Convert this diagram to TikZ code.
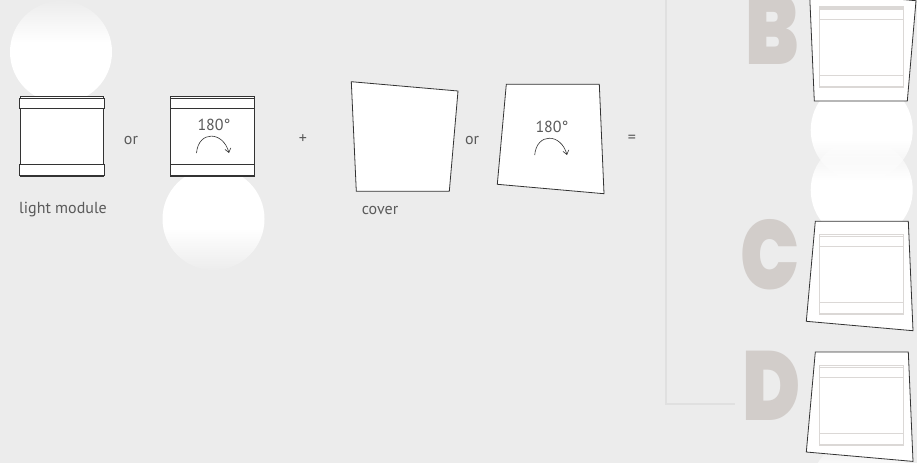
\documentclass[tikz,border=0pt]{standalone}
\usepackage{fontspec}
\setmainfont{PT Sans}
\newfontfamily\letterfont[FakeStretch=0.8]{Poppins Black}
\definecolor{panel}{HTML}{ECECEC}
\definecolor{ink}{HTML}{333333}
\definecolor{label}{HTML}{5A5A5A}
\definecolor{ghost}{HTML}{DBD8D6}
\definecolor{letter}{HTML}{D2CDCA}
\definecolor{rail}{HTML}{E0E0E0}
\usetikzlibrary{calc, positioning, arrows.meta, fadings}
\pgfdeclareverticalshading{glowupshade}{100bp}{color(0bp)=(white); color(55bp)=(white); color(75bp)=(black!95); color(100bp)=(black!95)}
\pgfdeclareverticalshading{glowdownshade}{100bp}{color(0bp)=(black!95); color(25bp)=(black!95); color(45bp)=(white); color(100bp)=(white)}
\pgfdeclarefading{glowup}{\pgfuseshading{glowupshade}}
\pgfdeclarefading{glowdown}{\pgfuseshading{glowdownshade}}

\begin{document}
\begin{tikzpicture}[x=1pt, y=-1pt,
  glow/.style={circle, fill=white, minimum size=102pt, inner sep=0pt},
  frame/.style={draw=ink, line width=0.6pt, fill=white, minimum width=83.5pt,
                minimum height=80.5pt, inner sep=0pt, outer sep=0pt},
  strip/.style={draw=ink, line width=0.6pt, fill=white, minimum width=84.5pt,
                inner sep=0pt, outer sep=0pt},
  ghostframe/.style={frame, draw=ghost, line width=1.1pt},
  ghoststrip/.style={strip, draw=ghost, line width=1.1pt},
  cover/.style={draw=ink, line width=0.8pt, fill=white, line join=miter},
  caption/.style={font=\fontsize{16}{18}\selectfont, text=label, inner sep=0pt},
  bigletter/.style={font=\letterfont\fontsize{98}{98}\selectfont, text=letter, inner sep=0pt},
  turn/.style={draw=ink, line width=0.6pt, -{Straight Barb[length=4pt,width=6pt]}},
]
\path[use as bounding box, clip] (0,0) rectangle (917,463);
\fill[panel] (0,0) rectangle (917,463);

% glows
\node[glow, path fading=glowup] (g1) at (61,52) {};
\node[glow, path fading=glowdown] (g2) at (213.5,219) {};
\node[glow, path fading=glowdown] (g3) at (861.7,130) {};
\node[glow, path fading=glowup] (g4) at (861.7,190) {};
\node[glow, path fading=glowup] (g5) at (861.7,489) {};

% light modules
\node[frame] (m1) at (61.7,136.5) {};
\node[strip, minimum height=10.4pt, below=2pt of m1.north] (m1t) {};
\node[strip, minimum height=11.4pt, above=1pt of m1.south] (m1b) {};
\node[frame] (m2) at (212.3,136.5) {};
\node[strip, minimum height=10.4pt, below=2pt of m2.north] (m2t) {};
\node[strip, minimum height=11.4pt, above=1pt of m2.south] (m2b) {};

\node[caption] (or1) at (131,140) {or};
\node[caption] (t1) at (214,125) {180°};
\coordinate (t1a) at (196.5,153);
\coordinate (t1b) at (229,153);
\draw[turn] (t1a) to[out=85, in=105, looseness=1.8] (t1b);
\node[caption] (lm) at (63,209.5) {light module};
\node[caption] (plus) at (303,139) {+};

% covers
\draw[cover] (351.3,81.7) -- (458,91) -- (449.3,191.3) -- (356.3,191.3) -- cycle;
\draw[cover] (506.3,84.3) -- (599.3,84.3) -- (604,193.7) -- (497.3,184.3) -- cycle;
\node[caption] (or2) at (472,140) {or};
\node[caption] (t2) at (552,127) {180°};
\coordinate (t2a) at (534.7,155);
\coordinate (t2b) at (567,155);
\draw[turn] (t2a) to[out=85, in=105, looseness=1.8] (t2b);
\node[caption] (cv) at (380,210) {cover};
\node[caption] (eq) at (632,139) {=};

% rail
\coordinate (railtop) at (666,0);
\coordinate (railend) at (735,403.5);
\draw[rail, line width=2pt] (railtop) |- (railend);

% letters
\node[bigletter] (B) at (772,29.5) {B};
\node[bigletter] (C) at (770,255) {C};
\node[bigletter] (D) at (772,386) {D};

% results
\draw[cover] (809.5,-8.6) -- (916,0.7) -- (907.3,101) -- (814.3,101) -- cycle;
\node[ghostframe] (m3) at (861.5,47.2) {};
\node[ghoststrip, minimum height=10.4pt, below=2pt of m3.north] (m3t) {};
\node[ghoststrip, minimum height=11.4pt, above=1pt of m3.south] (m3b) {};

\draw[cover] (815.3,221.3) -- (908.3,221.3) -- (913,330.7) -- (806.3,321.3) -- cycle;
\node[ghostframe] (m4) at (861.5,274.5) {};
\node[ghoststrip, minimum height=10.4pt, below=2pt of m4.north] (m4t) {};
\node[ghoststrip, minimum height=11.4pt, above=1pt of m4.south] (m4b) {};

\draw[cover] (815.3,352) -- (908.3,352) -- (913,461.4) -- (806.3,452) -- cycle;
\node[ghostframe] (m5) at (861.5,405.3) {};
\node[ghoststrip, minimum height=10.4pt, below=2pt of m5.north] (m5t) {};
\node[ghoststrip, minimum height=11.4pt, above=1pt of m5.south] (m5b) {};
\end{tikzpicture}
\end{document}
